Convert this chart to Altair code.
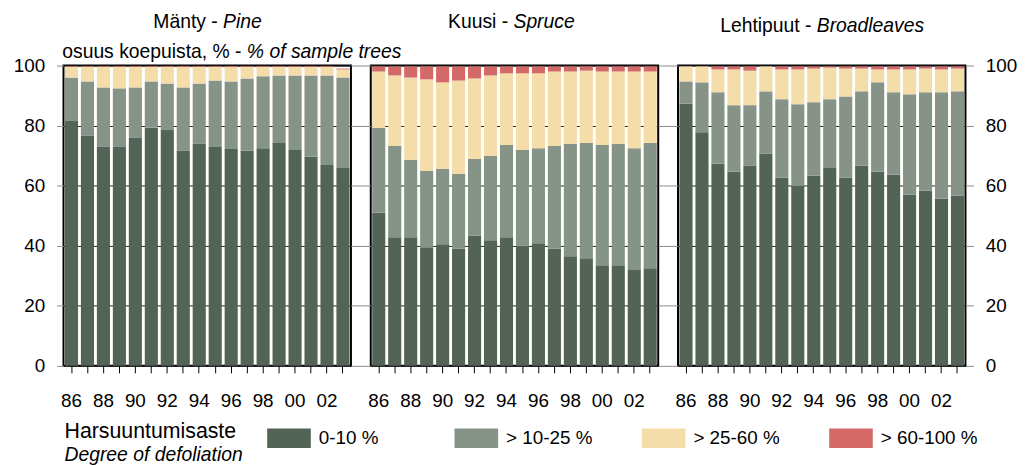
import altair as alt
import pandas as pd

FONT = "Liberation Sans, Arial, sans-serif"

years = [1986, 1987, 1988, 1989, 1990, 1991, 1992, 1993, 1994,
         1995, 1996, 1997, 1998, 1999, 2000, 2001, 2002, 2003]
classes = ["0-10 %", "> 10-25 %", "> 25-60 %", "> 60-100 %"]
colors = ["#536356", "#869387", "#F5DDA9", "#D46A68"]

# cumulative tops (%)
pine_top1 = [81.5, 76.6, 72.9, 72.9, 75.9, 79.3, 78.5, 71.6, 73.9, 72.9, 72.2, 71.6, 72.5, 74.2, 71.9, 69.6, 66.9, 65.9]
pine_top2 = [96.0, 94.7, 92.7, 92.4, 92.7, 94.7, 94.0, 92.7, 94.0, 95.0, 94.7, 95.7, 96.4, 96.7, 96.7, 96.7, 96.7, 96.0]
pine_top3 = [99.6, 99.6, 99.6, 99.6, 99.6, 99.6, 99.6, 99.5, 99.6, 99.6, 99.5, 99.6, 99.6, 99.6, 99.6, 99.6, 99.6, 98.7]
pine_top4 = [99.8, 99.8, 99.8, 99.8, 99.8, 99.8, 99.8, 99.8, 99.8, 99.8, 99.8, 99.8, 99.8, 99.8, 99.8, 99.8, 99.8, 99.0]

spruce_top1 = [51.0, 42.8, 42.8, 39.5, 40.5, 39.1, 43.4, 41.8, 42.8, 40.1, 40.8, 39.1, 36.5, 35.8, 33.5, 33.5, 31.9, 32.5]
spruce_top2 = [79.2, 73.2, 68.6, 64.9, 65.6, 63.9, 68.9, 69.9, 73.5, 71.9, 72.5, 73.2, 73.9, 74.2, 73.5, 73.9, 72.5, 74.2]
spruce_top3 = [98.0, 96.7, 96.0, 95.4, 94.4, 95.0, 95.7, 96.7, 97.4, 97.4, 97.4, 98.0, 98.0, 98.3, 98.0, 98.0, 98.0, 98.0]
spruce_top4 = [99.7, 99.7, 99.7, 99.7, 99.7, 99.7, 99.7, 99.7, 99.7, 99.7, 99.7, 99.7, 99.7, 99.7, 99.7, 99.7, 99.7, 99.7]

broad_top1 = [87.4, 77.8, 67.3, 64.6, 66.6, 70.6, 62.6, 60.0, 63.3, 65.9, 62.6, 66.6, 64.6, 63.6, 57.0, 58.3, 55.7, 56.7]
broad_top2 = [94.7, 94.4, 91.1, 86.8, 86.8, 91.4, 88.8, 87.1, 87.8, 88.8, 89.7, 91.4, 94.4, 91.1, 90.4, 91.1, 91.1, 91.4]
broad_top3 = [99.7, 99.7, 98.7, 98.7, 98.3, 99.7, 98.7, 98.7, 99.0, 99.3, 99.0, 99.0, 98.7, 98.7, 98.7, 99.0, 98.7, 99.0]
broad_top4 = [99.7, 99.7, 99.7, 99.7, 99.7, 99.7, 99.7, 99.7, 99.7, 99.7, 99.7, 99.7, 99.7, 99.7, 99.7, 99.7, 99.7, 99.7]

species = ["pine", "spruce", "broad"]
title_regular = ["Mänty -", "Kuusi -", "Lehtipuut -"]
title_italic = ["Pine", "Spruce", "Broadleaves"]
sub_regular = "osuus koepuista, % -"
sub_italic = "% of sample trees"
legend_title1 = "Harsuuntumisaste"
legend_title2 = "Degree of defoliation"
y_ticks = [0, 20, 40, 60, 80, 100]

tops = {
    "pine": [pine_top1, pine_top2, pine_top3, pine_top4],
    "spruce": [spruce_top1, spruce_top2, spruce_top3, spruce_top4],
    "broad": [broad_top1, broad_top2, broad_top3, broad_top4],
}

rows = []
for sp in species:
    for i, yr in enumerate(years):
        prev = 0.0
        for k, c in enumerate(classes):
            t = tops[sp][k][i]
            rows.append({"species": sp, "year": yr, "cls": c, "order": k, "value": round(t - prev, 2)})
            prev = t
df = pd.DataFrame(rows)

W, H = 290, 303
yscale = alt.Scale(domain=[0, 100], nice=False, zero=True)
color = alt.Color("cls:N", scale=alt.Scale(domain=classes, range=colors), legend=None)

x_axis = alt.Axis(
    title=None, labelAngle=0, labelOverlap=False,
    labelExpr="datum.value % 2 == 0 ? substring(toString(datum.value), 2, 4) : ''",
    tickSize=7, tickColor="black", tickWidth=1, domain=False, grid=False,
    labelFontSize=19, labelPadding=19, labelFont=FONT, labelColor="black",
)
x_enc = alt.X("year:O", scale=alt.Scale(paddingInner=0.18, paddingOuter=0.09), axis=x_axis)


def y_axis(orient, labels, tick, grid):
    return alt.Axis(
        orient=orient, values=y_ticks, title=None, labels=labels, tickSize=tick,
        tickColor="#8c8c8c", tickWidth=1, domain=False, grid=grid,
        gridColor="#222222", gridWidth=1, labelFontSize=19, labelPadding=12,
        labelFont=FONT, labelColor="black",
    )


def text_layer(s, x, y, align, italic=False, size=19.5, baseline="alphabetic"):
    kw = dict(align=align, baseline=baseline, fontSize=size, font=FONT, color="black")
    if italic:
        kw["fontStyle"] = "italic"
    return alt.Chart(pd.DataFrame({"t": [s]})).mark_text(**kw).encode(
        x=alt.value(x), y=alt.value(y), text="t:N")


def title_layers(idx, split, ty):
    return [text_layer(title_regular[idx], split - 5.4, ty, "right"),
            text_layer(title_italic[idx], split, ty, "left", italic=True)]


def bars(sp, axis):
    return alt.Chart(df[df.species == sp]).mark_bar().encode(
        x=x_enc,
        y=alt.Y("value:Q", stack="zero", scale=yscale, axis=axis),
        color=color,
        order=alt.Order("order:Q", sort="ascending"),
    )


# Legend (drawn below the panels, inside the first panel's layer)
leg_df = pd.DataFrame({"cls": classes})
leg_x = alt.X("cls:N", scale=alt.Scale(type="point", domain=classes, range=[186, 942], padding=0.5), axis=None)
swatch = alt.Chart(leg_df).mark_point(
    shape="M-1,-0.45L1,-0.45L1,0.45L-1,0.45Z", size=1936, filled=True, opacity=1, xOffset=-53,
).encode(x=leg_x, y=alt.value(H + 73), color=color)
leg_labels = alt.Chart(leg_df).mark_text(
    align="left", baseline="middle", fontSize=19, font=FONT, dx=-23, color="black",
).encode(x=leg_x, y=alt.value(H + 73), text="cls:N")
lt1 = text_layer(legend_title1, 1, H + 67, "left", size=21.5, baseline="middle")
lt2 = text_layer(legend_title2, 1, H + 90, "left", italic=True, size=19.5, baseline="middle")

# Pine
pine = alt.layer(
    bars("pine", y_axis("left", True, 7, True)),
    *title_layers(0, 161, -38),
    text_layer(sub_regular, 185 - 5.4, -8, "right"),
    text_layer(sub_italic, 185, -8, "left", italic=True),
    swatch, leg_labels, lt1, lt2,
).resolve_scale(x="independent").properties(width=W, height=H)

# Spruce
spruce = alt.layer(bars("spruce", y_axis("left", False, 20, True)),
                   *title_layers(1, 144, -38)).properties(width=W, height=H)

# Broadleaves
broad_right = alt.Chart(df[df.species == "broad"]).mark_tick(opacity=0).encode(
    x=x_enc, y=alt.Y("value:Q", scale=yscale, axis=y_axis("right", True, 8, False)))
broad = alt.layer(bars("broad", y_axis("left", False, 20, True)), broad_right,
                  *title_layers(2, 140, -34)).resolve_axis(y="independent").properties(width=W, height=H)

chart = alt.hconcat(pine, spruce, broad, spacing=20, bounds="flush").properties(
    padding={"left": 4, "top": 1, "right": 0, "bottom": 0}
).configure_view(stroke="black", strokeWidth=2)

chart.save("out.html", embed_options={"renderer": "svg", "actions": False})
